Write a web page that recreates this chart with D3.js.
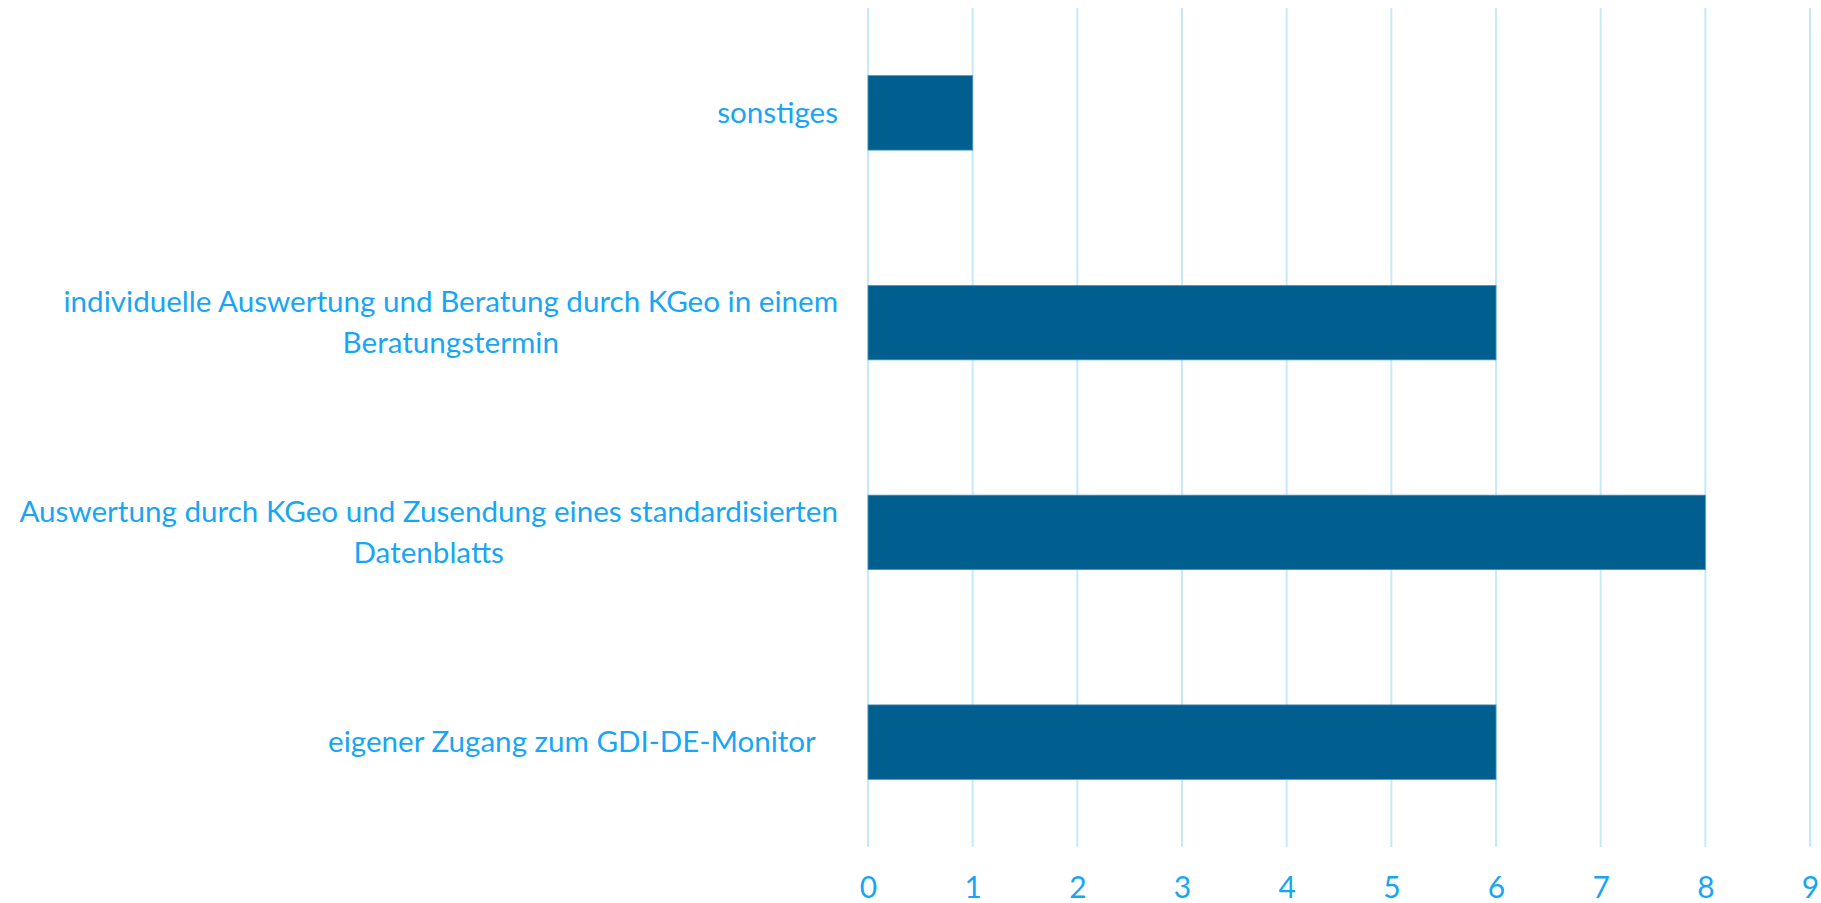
<!DOCTYPE html>
<html><head><meta charset="utf-8">
<script src="https://cdn.jsdelivr.net/npm/d3@7"></script>
<style>body{margin:0;background:#fff;} svg{display:block;}</style>
</head><body>
<svg id="chart" width="1821" height="903"></svg>
<script>
const categories = [
  ["sonstiges"],
  ["individuelle Auswertung und Beratung durch KGeo in einem", "Beratungstermin"],
  ["Auswertung durch KGeo und Zusendung eines standardisierten", "Datenblatts"],
  ["eigener Zugang zum GDI-DE-Monitor\u00a0\u00a0\u00a0"]
];
const values = [1, 6, 8, 6];
const tickValues = [0, 1, 2, 3, 4, 5, 6, 7, 8, 9];

const textColor = "#17a6f5";
const font = "Lato, 'Open Sans', sans-serif";
const fontSize = 29.6;
const svg = d3.select("#chart");
const x = d3.scaleLinear().domain([0, 9]).range([868, 1810]);
const y = d3.scaleBand().domain(d3.range(categories.length)).range([8, 847]).padding(0);
const barH = y.bandwidth() * 0.355;

// gridlines
svg.append("g").selectAll("line").data(tickValues).join("line")
  .attr("x1", d => x(d)).attr("x2", d => x(d))
  .attr("y1", 8).attr("y2", 847)
  .attr("stroke", "#c8e9fb").attr("stroke-width", 2);

// bars
svg.append("g").selectAll("rect").data(values).join("rect")
  .attr("x", x(0))
  .attr("y", (d, i) => y(i) + (y.bandwidth() - barH) / 2)
  .attr("width", d => x(d) - x(0))
  .attr("height", barH)
  .attr("fill", "#005f8f")
  .attr("stroke", "#4d93bb").attr("stroke-width", 0.8);

// x axis labels
const xAxis = d3.axisBottom(x).tickValues(tickValues).tickSize(0).tickPadding(0).tickFormat(d3.format("d"));
const ax = svg.append("g").attr("transform", "translate(0,877)").call(xAxis);
ax.select(".domain").remove();
ax.selectAll("text").attr("fill", textColor).attr("font-family", font).attr("font-size", 30).attr("dy", "0.71em").attr("y", 0);

// category labels
const lineH = 41;
const labelRight = 838;
categories.forEach((lines, i) => {
  const cy = y(i) + y.bandwidth() / 2;
  const g = svg.append("g");
  const texts = lines.map((ln, j) => g.append("text")
    .attr("font-family", font).attr("font-size", fontSize).attr("fill", textColor)
    .style("white-space", "pre")
    .attr("text-anchor", "middle")
    .attr("dy", "0.35em")
    .attr("y", cy + (j - (lines.length - 1) / 2) * lineH)
    .text(ln));
  const w = d3.max(texts, t => t.node().getComputedTextLength());
  texts.forEach(t => t.attr("x", labelRight - w / 2));
});
</script>
</body></html>
